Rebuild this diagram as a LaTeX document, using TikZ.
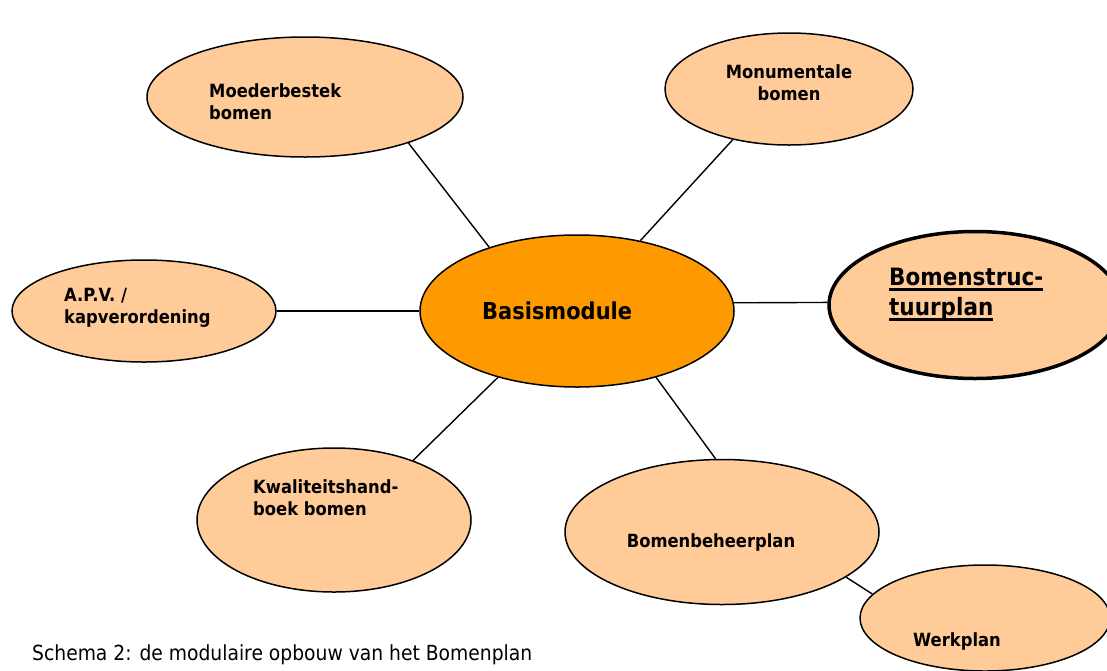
\documentclass[tikz,border=0pt]{standalone}
\usepackage{fontspec}
\setmainfont{DejaVu Sans}[FakeStretch=0.9]
\usetikzlibrary{shapes.geometric}

\definecolor{lichtOranje}{HTML}{FFCC99}
\definecolor{donkerOranje}{HTML}{FF9900}

\newcommand{\onderlijn}[1]{\setbox0\hbox{#1}\rlap{\rule[-5pt]{\wd0}{2.2pt}}\box0}

\tikzset{
  module/.style={ellipse, draw=black, line width=1.5pt, fill=lichtOranje, inner sep=0pt},
  lbl/.style={inner sep=0pt, align=left, font=\bfseries\fontsize{18.2}{22.5}\selectfont},
  verbinding/.style={line width=1.4pt}
}

\begin{document}
\begin{tikzpicture}[x=1pt,y=-1pt]
  \useasboundingbox (0,0) rectangle (1107,670);

  % modules
  \node[module, minimum width=316pt, minimum height=120pt] (moederbestek) at (305,97) {};
  \node[module, minimum width=248pt, minimum height=112pt] (monumentaal) at (789,89) {};
  \node[module, minimum width=264pt, minimum height=102pt] (apv) at (144,311) {};
  \node[module, fill=donkerOranje, minimum width=314pt, minimum height=152pt] (basismodule) at (577,311) {};
  \node[module, line width=3.5pt, minimum width=292pt, minimum height=147pt] (structuurplan) at (975,305) {};
  \node[module, minimum width=274pt, minimum height=144pt] (kwaliteit) at (334,520) {};
  \node[module, minimum width=314pt, minimum height=145pt] (beheerplan) at (722,532) {};
  \node[module, minimum width=250pt, minimum height=106pt] (werkplan) at (985,618) {};

  % teksten
  \node[lbl, anchor=north west] (moederbestekT) at (209,83) {Moederbestek\\bomen};
  \node[lbl, anchor=north, align=center] (monumentaalT) at (789,64) {Monumentale\\bomen};
  \node[lbl, anchor=north west] (apvT) at (64,288) {A.P.V. /\\kapverordening};
  \node[lbl, anchor=base west, font=\bfseries\fontsize{23.3}{28}\selectfont] (basismoduleT) at (482,319) {Basismodule};
  \node[lbl, anchor=north west, font=\bfseries\fontsize{23.9}{30}\selectfont] (structuurplanT) at (889,268) {\onderlijn{Bomenstruc-}\\\onderlijn{tuurplan}};
  \node[lbl, anchor=north west] (kwaliteitT) at (253,479) {Kwaliteitshand-\\boek bomen};
  \node[lbl, anchor=base] (beheerplanT) at (711,547) {Bomenbeheerplan};
  \node[lbl, anchor=base west] (werkplanT) at (913,646) {Werkplan};

  % verbindingen
  \draw[verbinding] (moederbestek.-24) -- (basismodule.144);
  \draw[verbinding] (monumentaal.-138) -- (basismodule.48);
  \draw[verbinding] (apv.east) -- (basismodule.west);
  \draw[verbinding] (basismodule.3) -- (structuurplan.179);
  \draw[verbinding] (kwaliteit.37) -- (basismodule.-140);
  \draw[verbinding] (basismodule.-40) -- (beheerplan.95);
  \draw[verbinding] (beheerplan.-20) -- (werkplan.168);
  %\draw[verbinding] (apv) -- (kwaliteit);

  \node[anchor=base west, inner sep=0pt, font=\fontsize{20.8}{25}\selectfont] (onderschrift) at (32,660) {Schema 2: de modulaire opbouw van het Bomenplan};
\end{tikzpicture}
\end{document}
